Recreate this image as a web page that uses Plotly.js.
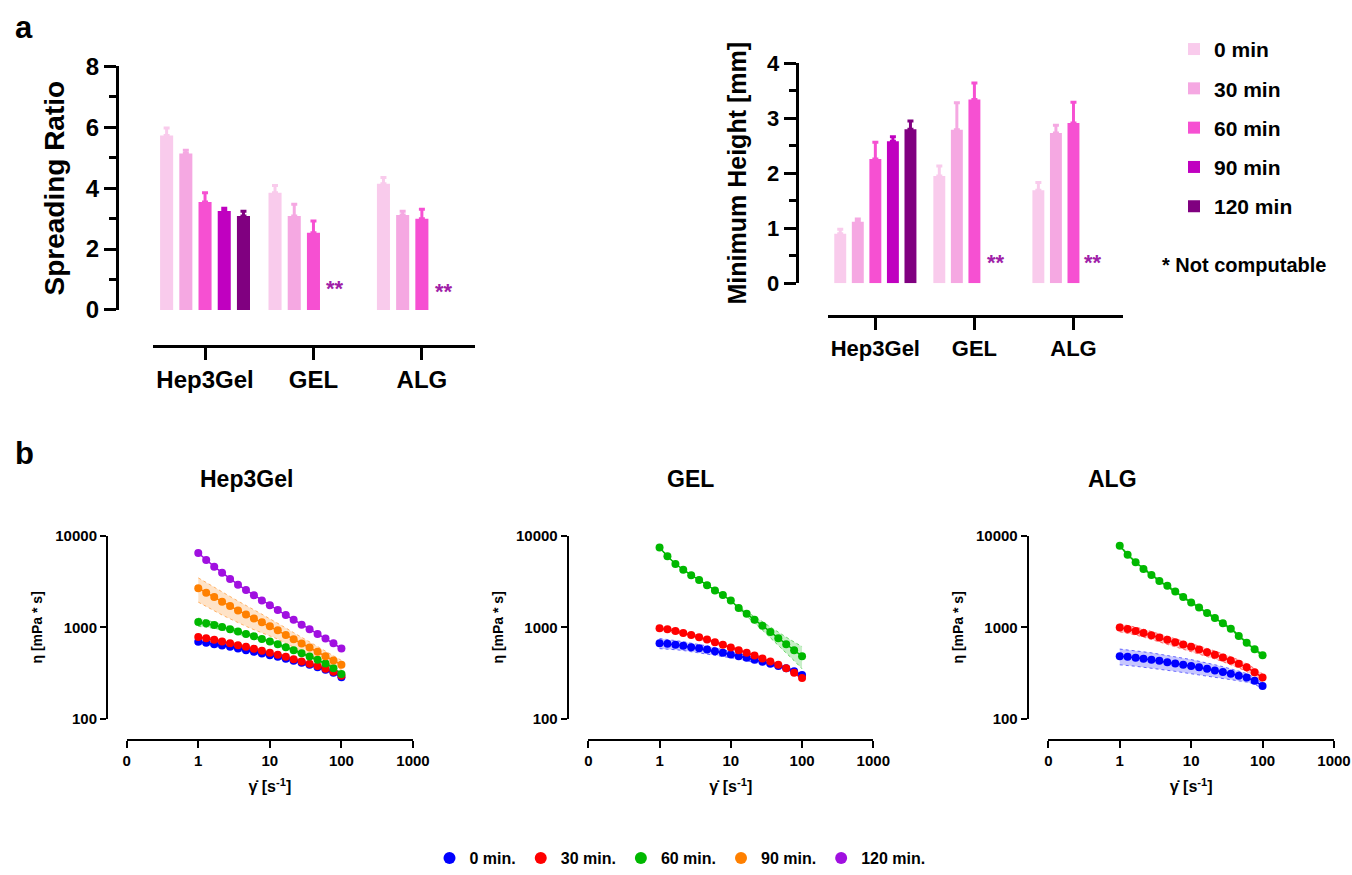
<!DOCTYPE html>
<html><head><meta charset="utf-8">
<script src="https://cdn.plot.ly/plotly-3.0.1.min.js"></script>
<style>html,body{margin:0;padding:0;background:#fff}#chart{width:1352px;height:875px}</style>
</head><body><div id="chart"></div>
<script>
// ---------- Panel a data ----------
const groups = ['Hep3Gel', 'GEL', 'ALG'];
const timeNames = ['0 min', '30 min', '60 min', '90 min', '120 min'];
const barColors = ['#F9CBEC', '#F5A8E2', '#F650D2', '#C000C0', '#800080'];

const spread_0 = [5.73, 3.85, 4.15];
const spread_30 = [5.14, 3.09, 3.12];
const spread_60 = [3.55, 2.54, 3.00];
const spread_90 = [3.25, null, null];
const spread_120 = [3.09, null, null];
const spreadErr_0 = [0.25, 0.24, 0.20];
const spreadErr_30 = [0.11, 0.38, 0.12];
const spreadErr_60 = [0.30, 0.38, 0.31];
const spreadErr_90 = [0.09, null, null];
const spreadErr_120 = [0.15, null, null];

const height_0 = [0.90, 1.95, 1.69];
const height_30 = [1.12, 2.79, 2.73];
const height_60 = [2.26, 3.34, 2.91];
const height_90 = [2.58, null, null];
const height_120 = [2.80, null, null];
const heightErr_0 = [0.08, 0.18, 0.14];
const heightErr_30 = [0.05, 0.49, 0.14];
const heightErr_60 = [0.30, 0.30, 0.38];
const heightErr_90 = [0.08, null, null];
const heightErr_120 = [0.15, null, null];

// ---------- Panel b data ----------
const shearRate = [1, 1.29, 1.67, 2.15, 2.78, 3.59, 4.64, 5.99, 7.74, 10, 12.9, 16.7, 21.5, 27.8, 35.9, 46.4, 59.9, 77.4, 100];
const rheoNames = ['0 min.', '30 min.', '60 min.', '90 min.', '120 min.'];
const rheoColors = ['#0000FF', '#FF0000', '#00B800', '#FF8000', '#A010E0'];
const panelTitles = ['Hep3Gel', 'GEL', 'ALG'];

const hep_0 = [693, 676, 653, 631, 611, 586, 561, 539, 517, 495, 476, 452, 430, 409, 389, 366, 343, 318, 283];
const hep_0_sd = [40, 36, 33, 30, 28, 26, 24, 22, 20, 19, 18, 17, 16, 15, 14, 13, 12, 11, 10];
const hep_30 = [786, 759, 729, 698, 669, 637, 611, 581, 553, 526, 500, 476, 448, 423, 399, 376, 352, 326, 295];
const hep_30_sd = [35, 33, 31, 29, 27, 26, 24, 23, 22, 21, 20, 19, 18, 17, 16, 15, 14, 13, 12];
const hep_60 = [1146, 1106, 1062, 1010, 951, 898, 847, 798, 747, 698, 653, 605, 561, 520, 479, 441, 402, 357, 307];
const hep_60_sd = [120, 100, 85, 70, 60, 50, 40, 35, 30, 25, 22, 20, 18, 16, 14, 12, 12, 10, 10];
const hep_90 = [2690, 2390, 2150, 1905, 1710, 1532, 1386, 1253, 1134, 1025, 928, 826, 740, 664, 601, 539, 483, 433, 389];
const hep_90_sd = [800, 700, 620, 540, 470, 410, 360, 310, 260, 215, 185, 160, 135, 115, 95, 80, 65, 55, 45];
const hep_120 = [6530, 5470, 4630, 3980, 3400, 2940, 2560, 2250, 1970, 1750, 1550, 1365, 1213, 1070, 951, 847, 753, 670, 586];

const gel_0 = [669, 659, 643, 627, 605, 590, 571, 547, 526, 504, 483, 464, 441, 420, 399, 376, 355, 331, 300];
const gel_0_sd = [85, 80, 75, 70, 65, 60, 55, 50, 45, 40, 36, 32, 28, 24, 20, 17, 14, 12, 10];
const gel_30 = [975, 951, 914, 869, 826, 778, 734, 686, 643, 601, 561, 526, 491, 456, 423, 389, 357, 318, 278];
const gel_30_sd = [50, 45, 42, 38, 35, 32, 30, 27, 25, 22, 20, 18, 16, 14, 12, 11, 10, 9, 8];
const gel_60 = [7530, 6010, 4950, 4290, 3730, 3310, 2900, 2530, 2260, 1970, 1628, 1410, 1213, 1044, 891, 759, 653, 561, 483];
const gel_60_sd = [60, 50, 40, 35, 30, 25, 22, 20, 18, 20, 55, 80, 100, 112, 118, 122, 128, 130, 132];

const alg_0 = [483, 476, 464, 452, 441, 430, 415, 402, 389, 376, 364, 352, 337, 323, 310, 295, 281, 260, 227];
const alg_0_sd = [95, 92, 90, 87, 84, 80, 77, 73, 70, 67, 62, 57, 52, 47, 42, 36, 30, 22, 15];
const alg_30 = [993, 961, 914, 869, 818, 772, 729, 686, 648, 611, 571, 534, 500, 467, 433, 399, 364, 321, 281];
const alg_30_sd = [100, 96, 91, 87, 82, 77, 73, 69, 65, 61, 57, 53, 50, 47, 43, 40, 36, 32, 28];
const alg_60 = [7840, 6250, 5170, 4370, 3760, 3230, 2850, 2470, 2150, 1874, 1652, 1436, 1267, 1106, 968, 805, 676, 575, 495];
const alg_60_sd = [240, 190, 150, 130, 110, 95, 85, 75, 65, 55, 50, 45, 40, 35, 30, 25, 22, 18, 16];

// ---------- helpers ----------
const W = 1352, H = 875;
const fx = p => p / W;
const fy = p => 1 - p / H;
const FAM = 'Liberation Sans, Arial, Helvetica, sans-serif';
const bold = (size, color) => ({family: FAM, size: size, color: color || '#000', weight: 'bold'});
function rgba(hex, a) {
  const n = parseInt(hex.slice(1), 16);
  return 'rgba(' + ((n >> 16) & 255) + ',' + ((n >> 8) & 255) + ',' + (n & 255) + ',' + a + ')';
}

const traces = [];

// ---------- bars ----------
const spreadSets = [spread_0, spread_30, spread_60, spread_90, spread_120];
const spreadErrs = [spreadErr_0, spreadErr_30, spreadErr_60, spreadErr_90, spreadErr_120];
const heightSets = [height_0, height_30, height_60, height_90, height_120];
const heightErrs = [heightErr_0, heightErr_30, heightErr_60, heightErr_90, heightErr_120];

function barTrace(i, ys, errs, xa, ya, show) {
  return {
    type: 'bar', x: groups, y: ys, name: timeNames[i], xaxis: xa, yaxis: ya,
    offsetgroup: 'g' + i, legendgroup: 'g' + i, showlegend: show, legend: 'legend',
    marker: {color: barColors[i], line: {width: 0}},
    error_y: {type: 'data', symmetric: false, array: errs, arrayminus: errs.map(v => v == null ? null : 0),
              color: barColors[i], thickness: 3, width: 3},
    hoverinfo: 'skip'
  };
}
for (let i = 0; i < 5; i++) traces.push(barTrace(i, spreadSets[i], spreadErrs[i], 'x', 'y', true));
for (let i = 0; i < 5; i++) traces.push(barTrace(i, heightSets[i], heightErrs[i], 'x2', 'y2', false));

// ---------- rheology ----------
const panels = [
  {xa: 'x3', ya: 'y3', series: [[0, hep_0, hep_0_sd], [1, hep_30, hep_30_sd], [2, hep_60, hep_60_sd], [3, hep_90, hep_90_sd], [4, hep_120, null]]},
  {xa: 'x4', ya: 'y4', series: [[0, gel_0, gel_0_sd], [1, gel_30, gel_30_sd], [2, gel_60, gel_60_sd]]},
  {xa: 'x5', ya: 'y5', series: [[0, alg_0, alg_0_sd], [1, alg_30, alg_30_sd], [2, alg_60, alg_60_sd]]}
];
// SD bands
panels.forEach(p => {
  p.series.forEach(([ci, mean, sd]) => {
    if (!sd) return;
    const c = rheoColors[ci];
    const lo = mean.map((m, k) => m - sd[k]);
    const hi = mean.map((m, k) => m + sd[k]);
    traces.push({type: 'scatter', mode: 'lines', x: shearRate, y: lo, xaxis: p.xa, yaxis: p.ya,
      line: {color: rgba(c, 0.55), width: 1, dash: 'dot'}, showlegend: false, hoverinfo: 'skip'});
    traces.push({type: 'scatter', mode: 'lines', x: shearRate, y: hi, xaxis: p.xa, yaxis: p.ya,
      fill: 'tonexty', fillcolor: rgba(c, 0.22),
      line: {color: rgba(c, 0.55), width: 1, dash: 'dot'}, showlegend: false, hoverinfo: 'skip'});
  });
});
// connecting lines
panels.forEach(p => {
  p.series.forEach(([ci, mean]) => {
    traces.push({type: 'scatter', mode: 'lines', x: shearRate, y: mean, xaxis: p.xa, yaxis: p.ya,
      line: {color: rheoColors[ci], width: 1.5}, showlegend: false, hoverinfo: 'skip'});
  });
});
// markers (legend from first panel)
panels.forEach((p, pi) => {
  p.series.forEach(([ci, mean]) => {
    traces.push({type: 'scatter', mode: 'markers', x: shearRate, y: mean, xaxis: p.xa, yaxis: p.ya,
      name: rheoNames[ci], legend: 'legend2', showlegend: pi === 0,
      marker: {color: rheoColors[ci], size: 8}, hoverinfo: 'skip'});
  });
});

// ---------- axes ----------
const barX = (dom, pos, range, fs) => ({
  domain: dom, anchor: 'free', position: pos, type: 'category', range: range,
  showline: true, linewidth: 3, linecolor: '#000', ticks: 'outside', ticklen: 12, tickwidth: 3,
  tickcolor: '#000', tickfont: bold(fs), showgrid: false, zeroline: false, fixedrange: true
});
const barY = (dom, pos, range, dtick, minor, title, tfs, fs) => ({
  domain: dom, anchor: 'free', position: pos, range: range, dtick: dtick, tick0: 0,
  showline: true, linewidth: 3, linecolor: '#000', ticks: 'outside', ticklen: 12, tickwidth: 3,
  tickcolor: '#000', tickfont: bold(fs), showgrid: false, zeroline: false, fixedrange: true,
  minor: {dtick: minor, tick0: 0, ticks: 'outside', ticklen: 7, tickwidth: 3, tickcolor: '#000', showgrid: false},
  title: {text: title, font: bold(tfs), standoff: 12}
});
const logX = (x0, x1) => ({
  domain: [fx(x0), fx(x1)], anchor: 'free', position: fy(742.7), type: 'log', range: [-1, 3],
  tickvals: [0.1, 1, 10, 100, 1000], ticktext: ['0', '1', '10', '100', '1000'],
  showline: true, linewidth: 2, linecolor: '#000', ticks: 'outside', ticklen: 7, tickwidth: 2,
  tickcolor: '#000', tickfont: bold(15), showgrid: false, zeroline: false, fixedrange: true,
  title: {text: 'γ̇ [s<sup>-1</sup>]', font: bold(16), standoff: 12}
});
const logY = (xp) => ({
  domain: [fy(721), fy(538)], anchor: 'free', position: fx(xp), type: 'log', range: [2, 4],
  tickvals: [100, 1000, 10000], ticktext: ['100', '1000', '10000'],
  showline: true, linewidth: 2, linecolor: '#000', ticks: 'outside', ticklen: 6, tickwidth: 2,
  tickcolor: '#000', tickfont: bold(15), showgrid: false, zeroline: false, fixedrange: true,
  title: {text: 'η [mPa * s]', font: bold(14), standoff: 8}
});

const starFont = bold(22, '#A020A8');
const annotations = [
  {text: 'a', x: fx(24), y: fy(28), xref: 'paper', yref: 'paper', xanchor: 'center', yanchor: 'middle', showarrow: false, font: bold(31)},
  {text: 'b', x: fx(24), y: fy(455), xref: 'paper', yref: 'paper', xanchor: 'center', yanchor: 'middle', showarrow: false, font: bold(31)},
  {text: '**', x: 1.2, y: 0.7, xref: 'x', yref: 'y', xanchor: 'center', showarrow: false, font: starFont},
  {text: '**', x: 2.2, y: 0.6, xref: 'x', yref: 'y', xanchor: 'center', showarrow: false, font: starFont},
  {text: '**', x: 1.22, y: 0.38, xref: 'x2', yref: 'y2', xanchor: 'center', showarrow: false, font: starFont},
  {text: '**', x: 2.2, y: 0.38, xref: 'x2', yref: 'y2', xanchor: 'center', showarrow: false, font: starFont},
  {text: '* Not computable', x: fx(1160), y: fy(266), xref: 'paper', yref: 'paper', xanchor: 'left', yanchor: 'middle',
   showarrow: false, font: bold(20)},
  {text: panelTitles[0], x: fx(247), y: fy(481), xref: 'paper', yref: 'paper', xanchor: 'center', yanchor: 'middle', showarrow: false, font: bold(23)},
  {text: panelTitles[1], x: fx(690), y: fy(481), xref: 'paper', yref: 'paper', xanchor: 'center', yanchor: 'middle', showarrow: false, font: bold(23)},
  {text: panelTitles[2], x: fx(1112), y: fy(481), xref: 'paper', yref: 'paper', xanchor: 'center', yanchor: 'middle', showarrow: false, font: bold(23)}
];

const layout = {
  width: W, height: H, margin: {l: 0, r: 0, t: 0, b: 0},
  paper_bgcolor: '#fff', plot_bgcolor: 'rgba(0,0,0,0)',
  font: {family: FAM, color: '#000'},
  barmode: 'group', bargap: 0.114, bargroupgap: 0.32,
  xaxis: barX([fx(153), fx(475)], fy(346.7), [-0.48, 2.49], 24),
  yaxis: barY([fy(311), fy(66.7)], fx(117), [0, 8], 2, 1, 'Spreading Ratio', 28, 24),
  xaxis2: barX([fx(828.3), fx(1123)], fy(316.7), [-0.475, 2.5], 22),
  yaxis2: barY([fy(284.3), fy(63.3)], fx(796.7), [0, 4], 1, 0.5, 'Minimum Height [mm]', 25, 22),
  xaxis3: logX(126.7, 413), yaxis3: logY(107),
  xaxis4: logX(588.3, 873.3), yaxis4: logY(567.7),
  xaxis5: logX(1048.3, 1334), yaxis5: logY(1027.7),
  legend: {x: fx(1174), y: fy(29), xanchor: 'left', yanchor: 'top', font: bold(21),
           traceorder: 'grouped', tracegroupgap: 9, bgcolor: 'rgba(0,0,0,0)'},
  legend2: {orientation: 'h', x: fx(680), xanchor: 'center', y: fy(861), yanchor: 'middle',
            font: bold(16), itemsizing: 'constant', bgcolor: 'rgba(0,0,0,0)'},
  annotations: annotations,
  showlegend: true
};

Plotly.newPlot('chart', traces, layout, {staticPlot: true, displayModeBar: false});
</script>
</body></html>
